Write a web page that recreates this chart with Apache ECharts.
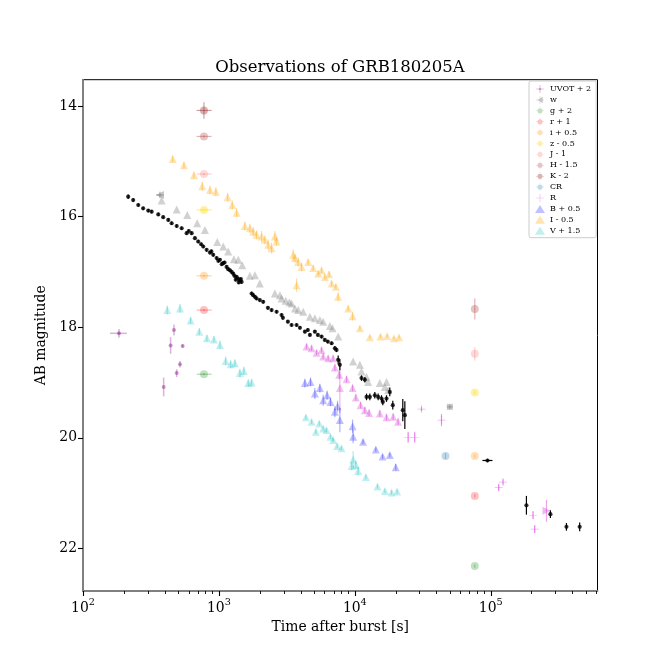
<!DOCTYPE html>
<html>
<head>
<meta charset="utf-8">
<script src="https://cdn.jsdelivr.net/npm/echarts@6/dist/echarts.min.js"></script>
<style>html,body{margin:0;padding:0;background:#fff}#c{width:664px;height:664px}</style>
</head>
<body>
<div id="c"></div>
<script>
// ---- data: [time (s), AB mag, mag error, optional time-lo, time-hi] ----
const blackPts = [
[215,15.64,0.04],[234,15.70,0.03],[255,15.79,0.03],[277,15.85,0.03],[302,15.89,0.03],[320,15.91,0.03],[358,15.96,0.03],[389,16.01,0.03],[424,16.06,0.03],[449,16.12,0.03],[489,16.17,0.03],[532,16.21,0.03],[579,16.30,0.03],[630,16.30,0.03],[666,16.39,0.03],[704,16.45,0.03],[767,16.54,0.03],[812,16.60,0.03],[859,16.65,0.03],[908,16.69,0.03],[962,16.75,0.03],[1017,16.78,0.03],[1076,16.84,0.03],[1139,16.91,0.03],[1205,16.97,0.03],[1274,17.03,0.03],[1349,17.09,0.03],[1426,17.15,0.03],[1468,17.18,0.03],
[600,16.26,0.03],[740,16.50,0.03],[880,16.63,0.03],[990,16.80,0.03],[1050,16.86,0.03],[1100,16.83,0.03],[1170,16.95,0.03],[1240,17.00,0.03],[1300,17.07,0.03],[1380,17.12,0.03],[1400,17.19,0.03],[1450,17.13,0.03],[1330,17.14,0.03],
[1740,17.39,0.03],[1786,17.42,0.03],[1840,17.45,0.03],[1892,17.48,0.03],[2000,17.51,0.03],[2117,17.54,0.03],[2293,17.65,0.03],[2441,17.69,0.03],[2656,17.72,0.03],[2891,17.78,0.03],[2956,17.83,0.03],[3216,17.90,0.03],[3425,17.96,0.03],[3726,17.96,0.03],[3944,18.01,0.03],[4290,18.08,0.03],[4510,18.05,0.03],[4670,18.14,0.03],[5080,18.08,0.03],[5345,18.14,0.03],[5690,18.17,0.03],[6010,18.23,0.03],[6325,18.26,0.03],[6745,18.29,0.03],[7130,18.38,0.04],[7330,18.41,0.04],[7540,18.59,0.08],[7760,18.68,0.1],
[11200,18.92,0.05],[11850,18.95,0.05],[12190,19.26,0.06],[12890,19.26,0.06],[14030,19.23,0.06],[14840,19.26,0.06],[15710,19.29,0.06],[16060,19.35,0.06],[17100,19.29,0.06],[18080,19.17,0.08],[19020,19.41,0.08],[22530,19.50,0.2],[23330,19.59,0.25],
[94600,20.41,0.03,86800,103000],[183000,21.22,0.17],[274800,21.38,0.07],[360400,21.61,0.07],[451000,21.61,0.08]
];
const greyTri = [
[379,15.71],[489,15.87],[585,15.97],[692,16.12],[789,16.24],[972,16.46],[1076,16.54],[1170,16.63],[1289,16.77],[1387,16.78],[1484,16.88],[1690,17.07],[1840,17.06],[2000,17.21],[2580,17.39],[2810,17.42],[2891,17.48],[3100,17.52],[3300,17.55],[3425,17.57],[3625,17.66],[3832,17.69],[4170,17.72],[4670,17.81],[5080,17.84],[5530,17.87],[5850,17.90],[6550,17.98],[6860,18.02],[7540,18.17],[9715,18.62],[10890,18.68],[11200,18.80],[12190,18.90],[12530,18.99],[15270,19.01],[16630,19.08],[17100,18.99],[17580,19.14]
];
const greySq = [[50000,19.44,0.04,47500,52500]];
const magTri = [
[4415,18.35,0.05],[4806,18.38,0.05],[5230,18.46,0.05],[5690,18.41,0.05],[5850,18.53,0.05],[6365,18.56,0.05],[6920,18.56,0.05],[7130,18.73,0.06],[7670,18.86,0.08],[8690,18.94,0.06],[7760,19.10,0.45],[9620,19.10,0.06],[10170,19.27,0.06],[11020,19.41,0.06],[11850,19.50,0.06],[12740,19.55,0.06],[15270,19.56,0.06],[17100,19.63,0.06],[19140,19.62,0.06],[20800,19.71,0.06]
];
const magRightTri = [[257000,21.32,0.2]];
const uvot = [[184,18.11,0.08,158,210],[467,18.05,0.1],[441,18.33,0.15],[541,18.34,0.03],[517,18.67,0.06],[489,18.83,0.07],[392,19.08,0.17]];
const wBand = [[368,15.61,0.06,345,392]];
const gBand = [[776,18.85,0.02,685,883],[76300,22.32,0.03]];
const rBand = [[776,17.69,0.02,685,883],[76300,21.05,0.03]];
const iBand = [[776,17.07,0.02,685,883],[76300,20.33,0.03]];
const zBand = [[776,15.88,0.02,685,883],[76300,19.18,0.03]];
const jBand = [[776,15.23,0.02,685,883],[76300,18.48,0.12]];
const hBand = [[776,14.55,0.02,685,883],[76300,17.67,0.19]];
const kBand = [[776,14.08,0.15,685,883]];
const crBand = [[46450,20.33,0.05]];
const rPlus = [[24660,19.99,0.1],[27600,19.99,0.1],[30930,19.48,0.04],[43400,19.68,0.11],[114500,20.90,0.06],[123100,20.80,0.05],[204600,21.40,0.07],[210700,21.65,0.07]];
const bTri = [[4290,19.01,0.08],[4720,18.99,0.08],[5080,19.20,0.1],[5530,19.10,0.08],[5850,19.32,0.1],[6250,19.23,0.08],[6620,19.35,0.08],[7130,19.53,0.1],[7460,19.43,0.1],[7760,19.68,0.22],[9620,19.79,0.12],[9715,19.98,0.12],[11500,20.07,0.04],[14270,20.21,0.04],[15990,20.34,0.04],[18080,20.31,0.04],[20000,20.53,0.06]];
const iTri = [[457,14.96,0.06],[553,15.07,0.06],[655,15.25,0.06],[754,15.45,0.08],[859,15.52,0.08],[950,15.55,0.08],[1159,15.65,0.08],[1253,15.79,0.08],[1349,15.93,0.08],[1552,16.17,0.08],[1690,16.21,0.08],[1788,16.27,0.08],[1893,16.33,0.08],[2060,16.36,0.1],[2178,16.42,0.08],[2304,16.51,0.1],[2441,16.57,0.1],[2580,16.36,0.1],[2656,16.45,0.08],
[3518,16.69,0.1],[3625,16.75,0.08],[3832,16.82,0.08],[4055,16.91,0.08],[3726,17.24,0.12],[4535,16.82,0.05],[4936,16.93,0.05],[5375,17.03,0.05],[5690,16.97,0.05],[6010,17.09,0.05],[6470,17.04,0.05],[6745,17.21,0.05],[7250,17.27,0.05],[7540,17.45,0.08],[8930,17.66,0.05],[9620,17.80,0.08],[10890,18.02,0.04],[12890,18.18,0.03],[15450,18.17,0.03],[17280,18.16,0.03],[19380,18.20,0.03],[21180,18.18,0.03]];
const vTri = [[417,17.69,0.08],[517,17.66,0.08],[619,17.88,0.06],[717,18.08,0.06],[816,18.20,0.06],[919,18.22,0.06],[1017,18.32,0.08],[1120,18.61,0.08],[1219,18.67,0.07],[1311,18.65,0.07],[1426,18.83,0.08],[1526,18.79,0.08],[1643,19.01,0.06],[1740,19.00,0.06],
[4365,19.63,0.04],[4806,19.71,0.04],[5170,19.89,0.04],[5470,19.74,0.04],[5850,19.83,0.04],[6190,19.86,0.04],[6620,19.98,0.04],[6920,20.04,0.04],[7410,20.15,0.04],[7980,20.19,0.04],[9715,20.39,0.15],[9460,20.51,0.08],[10170,20.49,0.08],[10570,20.60,0.08],[12050,20.71,0.04],[14680,20.88,0.04],[16630,20.96,0.04],[18620,20.99,0.04],[20470,20.97,0.04]];

const yTicks = [14,16,18,20,22];
const xMajor = [100,1000,10000,100000];
const xMinor = [200,300,400,500,600,700,800,900,2000,3000,4000,5000,6000,7000,8000,9000,20000,30000,40000,50000,60000,70000,80000,90000,200000,300000,400000,500000,600000];
const X_MIN = 100, X_MAX = 610000, Y_MIN = 13.524, Y_MAX = 22.77;

// ---- icons ----
const IC_PLUSDOT = 'path://M4.6,0h0.8v10h-0.8z M0,4.6h10v0.8h-10z M5,3.3a1.7,1.7 0 1,1 -0.001,0z';
const IC_CIRC = 'path://M4.7,0h0.6v10h-0.6z M0,4.7h10v0.6h-10z M5,1.8a3.2,3.2 0 1,1 -0.001,0z';
const IC_LTRI = 'path://M4.7,0h0.6v10h-0.6z M0,4.7h10v0.6h-10z M1.5,5L8.5,1.2L8.5,8.8z';
const IC_PLUS = 'path://M4.6,0h0.8v10h-0.8z M0,4.6h10v0.8h-10z';

function errRender(color, w) {
  return function (params, api) {
    const t = api.value(0), m = api.value(1), dy = api.value(2), xl = api.value(3), xh = api.value(4);
    const ch = [];
    if (dy > 0) {
      const a = api.coord([t, m - dy]), b = api.coord([t, m + dy]);
      ch.push({type: 'line', shape: {x1: a[0], y1: a[1], x2: b[0], y2: b[1]}, style: {stroke: color, lineWidth: w}});
    }
    if (xl > 0 && xh > 0) {
      const a = api.coord([xl, m]), b = api.coord([xh, m]);
      ch.push({type: 'line', shape: {x1: a[0], y1: a[1], x2: b[0], y2: b[1]}, style: {stroke: color, lineWidth: w}});
    }
    return {type: 'group', children: ch};
  };
}
const series = [];
function add(name, data, color, symbol, size, opts) {
  opts = opts || {};
  const padded = data.map(d => [d[0], d[1], d[2] || 0, d[3] || 0, d[4] || 0]);
  if (!opts.noErr) {
    series.push({type: 'custom', name: name + ' err', renderItem: errRender(opts.errColor || color, opts.errW || 1.2),
      data: padded, encode: {x: 0, y: 1}, silent: true, z: opts.z || 2});
  }
  series.push({type: 'scatter', name: name, data: padded, symbol: symbol, symbolSize: size,
    symbolRotate: opts.rot || 0, itemStyle: {color: color}, encode: {x: 0, y: 1}, silent: true, z: (opts.z || 2) + 1});
}
add('_grey', greyTri, 'rgba(128,128,128,0.45)', 'triangle', 8, {noErr: true});
add('_greysq', greySq, 'rgba(128,128,128,0.55)', 'rect', 6);
add('_magtri', magTri, 'rgba(200,0,200,0.3)', 'triangle', 8);
add('_magrt', magRightTri, 'rgba(200,0,200,0.35)', 'triangle', 8, {rot: -90});
add('UVOT + 2', uvot, 'rgba(128,0,128,0.5)', 'circle', 4, {errColor: 'rgba(128,0,128,0.3)', errW: 1.5});
add('w', wBand, 'rgba(110,110,110,0.5)', 'triangle', 8, {rot: 90});
add('g + 2', gBand, 'rgba(0,128,0,0.3)', 'circle', 8);
add('r + 1', rBand, 'rgba(255,0,0,0.3)', 'circle', 8);
add('i + 0.5', iBand, 'rgba(255,140,0,0.35)', 'circle', 8);
add('z - 0.5', zBand, 'rgba(255,215,0,0.45)', 'circle', 8);
add('J - 1', jBand, 'rgba(250,120,120,0.35)', 'circle', 8);
add('H - 1.5', hBand, 'rgba(180,70,70,0.4)', 'circle', 8);
add('K - 2', kBand, 'rgba(140,20,20,0.4)', 'circle', 8);
add('CR', crBand, 'rgba(31,119,180,0.35)', 'circle', 8);
add('R', rPlus, 'rgba(210,0,210,0.4)', IC_PLUS, 8);
add('B + 0.5', bTri, 'rgba(0,0,255,0.3)', 'triangle', 8);
add('I - 0.5', iTri, 'rgba(255,165,0,0.38)', 'triangle', 8);
add('V + 1.5', vTri, 'rgba(0,190,190,0.3)', 'triangle', 8);
add('_black', blackPts, '#000', 'circle', 4.2, {z: 10, errW: 1.2});

const legendData = [
  {name: 'UVOT + 2', icon: IC_PLUSDOT}, {name: 'w', icon: IC_LTRI}, {name: 'g + 2', icon: IC_CIRC},
  {name: 'r + 1', icon: IC_CIRC}, {name: 'i + 0.5', icon: IC_CIRC}, {name: 'z - 0.5', icon: IC_CIRC},
  {name: 'J - 1', icon: IC_CIRC}, {name: 'H - 1.5', icon: IC_CIRC}, {name: 'K - 2', icon: IC_CIRC},
  {name: 'CR', icon: IC_CIRC}, {name: 'R', icon: IC_PLUS}, {name: 'B + 0.5', icon: 'triangle'},
  {name: 'I - 0.5', icon: 'triangle'}, {name: 'V + 1.5', icon: 'triangle'}
];

const FONT = 'DejaVu Serif';
const GRID = {left: 83, right: 66.5, top: 79.7, bottom: 73};
const chart = echarts.init(document.getElementById('c'), null, {renderer: 'canvas'});
chart.setOption({
  animation: false,
  backgroundColor: '#fff',
  textStyle: {fontFamily: FONT},
  graphic: [{type: 'text', x: 340, y: 68, style: {text: 'Observations of GRB180205A', font: '16.5px "DejaVu Serif"', fill: '#000', align: 'center', verticalAlign: 'middle'}}],
  grid: [
    Object.assign({show: true, borderColor: '#000', borderWidth: 1, containLabel: false}, GRID),
    Object.assign({show: false, containLabel: false}, GRID)
  ],
  legend: {
    data: legendData, orient: 'vertical', left: 529, top: 81, itemWidth: 10, itemHeight: 8, itemGap: 2.9,
    padding: [4, 5, 3, 6], backgroundColor: '#fff', borderColor: '#cccccc', borderWidth: 1, borderRadius: 2,
    textStyle: {fontFamily: FONT, fontSize: 8, color: '#000', lineHeight: 8}, selectedMode: false, inactiveColor: '#fff'
  },
  xAxis: [{
    type: 'log', logBase: 10, min: X_MIN, max: X_MAX, position: 'bottom', gridIndex: 0,
    name: 'Time after burst [s]', nameLocation: 'middle', nameGap: 21,
    nameTextStyle: {fontFamily: FONT, fontSize: 13.9, color: '#000'},
    axisLine: {show: true, onZero: false, lineStyle: {color: '#808080', width: 2}},
    axisTick: {show: true, inside: false, customValues: xMajor, length: 5, lineStyle: {color: '#000', width: 1.1}},
    axisLabel: {customValues: xMajor, margin: 6, formatter: function (v) { return '{b|10}{s|' + Math.round(Math.log10(v)) + '}'; },
      rich: {b: {fontFamily: FONT, fontSize: 13.9, color: '#000', lineHeight: 18, verticalAlign: 'bottom'},
             s: {fontFamily: FONT, fontSize: 9.7, color: '#000', lineHeight: 10, verticalAlign: 'top'}}},
    splitLine: {show: false}
  }, {
    // minor-tick axis: same log range expressed as exponents
    type: 'value', min: Math.log10(X_MIN), max: Math.log10(X_MAX), position: 'bottom', gridIndex: 1, show: true,
    axisLine: {show: true, onZero: false, lineStyle: {color: 'rgba(0,0,0,0)', width: 2}}, axisLabel: {show: false}, splitLine: {show: false},
    axisTick: {show: true, inside: false, customValues: xMinor.map(v => Math.log10(v)), length: 3, lineStyle: {color: '#000', width: 0.9}}
  }],
  yAxis: [{
    type: 'value', inverse: true, min: Y_MIN, max: Y_MAX, gridIndex: 0,
    name: 'AB magnitude', nameLocation: 'middle', nameGap: 28, nameRotate: 90,
    nameTextStyle: {fontFamily: FONT, fontSize: 13.9, color: '#000'},
    axisLine: {show: true, onZero: false, lineStyle: {color: '#808080', width: 2}},
    axisTick: {show: true, inside: false, customValues: yTicks, length: 5, lineStyle: {color: '#000', width: 1.1}},
    axisLabel: {customValues: yTicks, margin: 6, fontFamily: FONT, fontSize: 13.9, color: '#000'},
    splitLine: {show: false}
  }, {
    type: 'value', inverse: true, min: Y_MIN, max: Y_MAX, gridIndex: 1, show: false
  }],
  series: series
});
</script>
</body>
</html>
